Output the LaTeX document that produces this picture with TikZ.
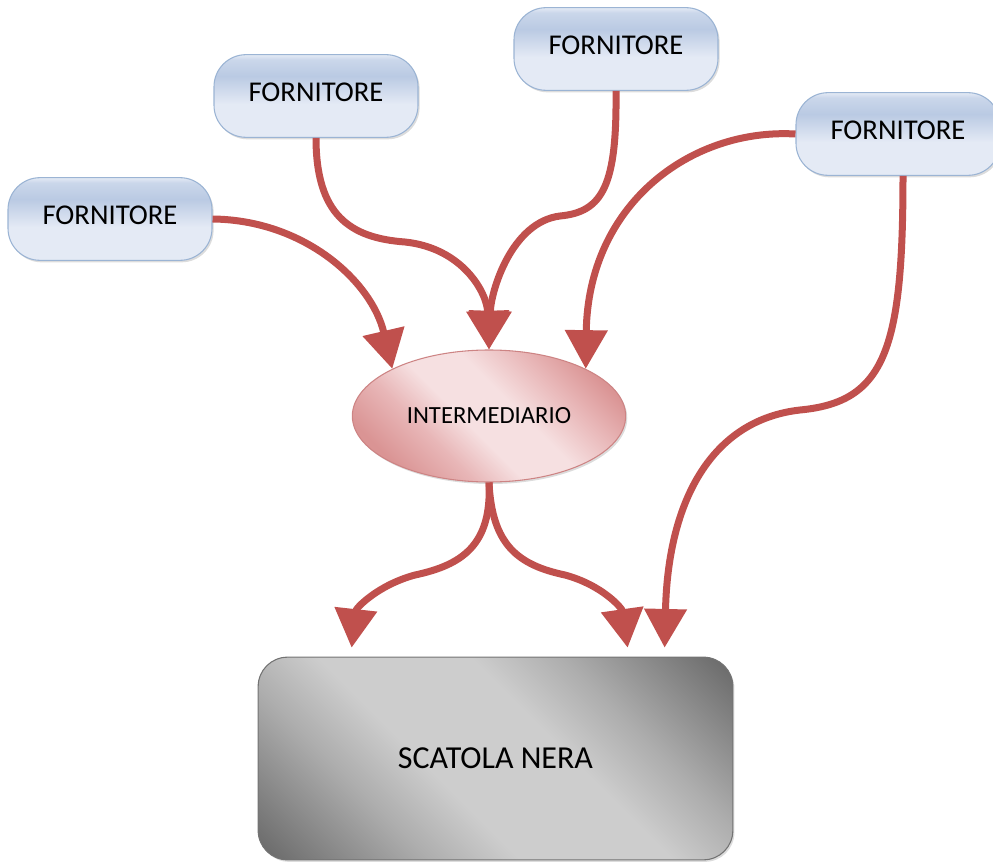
\documentclass[tikz,border=0pt]{standalone}
\usepackage{fontspec}
\setmainfont{Carlito}
\usetikzlibrary{arrows.meta,shapes.geometric,shadows,calc}

\definecolor{arrowred}{RGB}{192,80,77}
\definecolor{pillA}{RGB}{228,234,245}
\definecolor{pillB}{RGB}{186,202,227}
\definecolor{pillborder}{RGB}{155,180,212}
\definecolor{pinkA}{RGB}{246,224,225}
\definecolor{pinkB}{RGB}{218,148,148}
\definecolor{pinkM}{RGB}{232,182,183}
\definecolor{pinkborder}{RGB}{205,132,132}
\definecolor{greyA}{RGB}{205,205,205}
\definecolor{greyM}{RGB}{172,172,172}
\definecolor{greyB}{RGB}{104,104,104}
\definecolor{greyborder}{RGB}{115,115,115}

% gradients: pale blue pills, pink hub, grey box
\pgfdeclareverticalshading{pillshade}{100bp}{%
  color(0bp)=(pillA); color(25bp)=(pillA); color(45bp)=(pillA);
  color(62bp)=(pillB); color(72bp)=(pillB!60!pillA); color(75bp)=(pillA);
  color(100bp)=(pillA)}
\pgfdeclarehorizontalshading{hubshade}{100bp}{%
  color(0bp)=(pinkB); color(25bp)=(pinkB); color(36bp)=(pinkM);
  color(45bp)=(pinkA); color(56bp)=(pinkA); color(67bp)=(pinkM);
  color(76bp)=(pinkB); color(100bp)=(pinkB)}
\pgfdeclarehorizontalshading{boxshade}{100bp}{%
  color(0bp)=(greyB); color(15bp)=(greyB); color(32bp)=(greyM);
  color(42bp)=(greyA); color(58bp)=(greyA); color(68bp)=(greyM);
  color(85bp)=(greyB); color(100bp)=(greyB)}

\tikzset{
  softshadow/.style={drop shadow={shadow xshift=1.2pt,shadow yshift=-1.5pt,
      opacity=0.3,fill=black!45}},
  pill/.style={rectangle, rounded corners=24pt, minimum width=153pt,
    minimum height=62pt, draw=pillborder, line width=0.8pt,
    shading=pillshade, softshadow, text depth=5pt,
    font=\fontsize{21.5pt}{24pt}\selectfont, text=black},
  hub/.style={ellipse, inner sep=0pt, minimum width=205pt, minimum height=99pt,
    draw=pinkborder, line width=0.8pt, shading=hubshade, shading angle=45,
    softshadow, font=\fontsize{18.5pt}{21pt}\selectfont, text=black},
  sink/.style={rectangle, rounded corners=22pt, minimum width=356pt,
    minimum height=152pt, draw=greyborder, line width=0.8pt,
    shading=boxshade, shading angle=45, softshadow,
    font=\fontsize{24pt}{28pt}\selectfont, text=black},
  flow/.style={draw=arrowred, line width=5.25pt,
    -{Triangle[width=31pt,length=29pt]}},
}

\begin{document}
\begin{tikzpicture}[x=0.75pt,y=-0.75pt]
  \useasboundingbox (0,0) rectangle (993,863);

  % suppliers, hub and black box
  \node[pill] (f1) at (110,219) {FORNITORE};
  \node[pill] (f2) at (316,96) {FORNITORE};
  \node[pill] (f3) at (616,49) {FORNITORE};
  \node[pill] (f4) at (898,134) {FORNITORE};
  \node[hub] (inter) at (489,416) {INTERMEDIARIO};
  \node[sink] (box) at (495.5,758.5) {SCATOLA NERA};

  % arrow tips just above the box
  \coordinate (t1) at ($(box.north west)+(94,-9)$);
  \coordinate (t2) at ($(box.north west)+(370,-9)$);
  \coordinate (t3) at ($(box.north west)+(407,-9)$);
  \coordinate (f4out) at ($(f4.south)+(5,0)$);

  % suppliers into the hub
  \draw[flow] (f1.east) .. controls (305,220) and (372,282) .. (inter.154);
  \draw[flow] (f2.south) .. controls (316,215) and (350,238) .. (405,242)
              .. controls (462,248) and (487,292) .. (inter.north);
  \draw[flow] (f3.south) .. controls (617,185) and (603,212) .. (560,216)
              .. controls (512,222) and (491,290) .. (inter.north);
  \draw[flow] (f4.west) .. controls (690,128) and (588,205) .. (inter.26);

  % direct supplier line and hub outputs into the box
  \draw[flow] (f4out) .. controls (903,350) and (885,402) .. (800,410)
              .. controls (712,420) and (668,500) .. (t3);
  \draw[flow] (inter.south) .. controls (492,545) and (462,565) .. (415,575)
              .. controls (378,585) and (356,608) .. (t1);
  \draw[flow] (inter.south) .. controls (492,545) and (518,565) .. (565,575)
              .. controls (602,585) and (622,608) .. (t2);
\end{tikzpicture}
\end{document}
